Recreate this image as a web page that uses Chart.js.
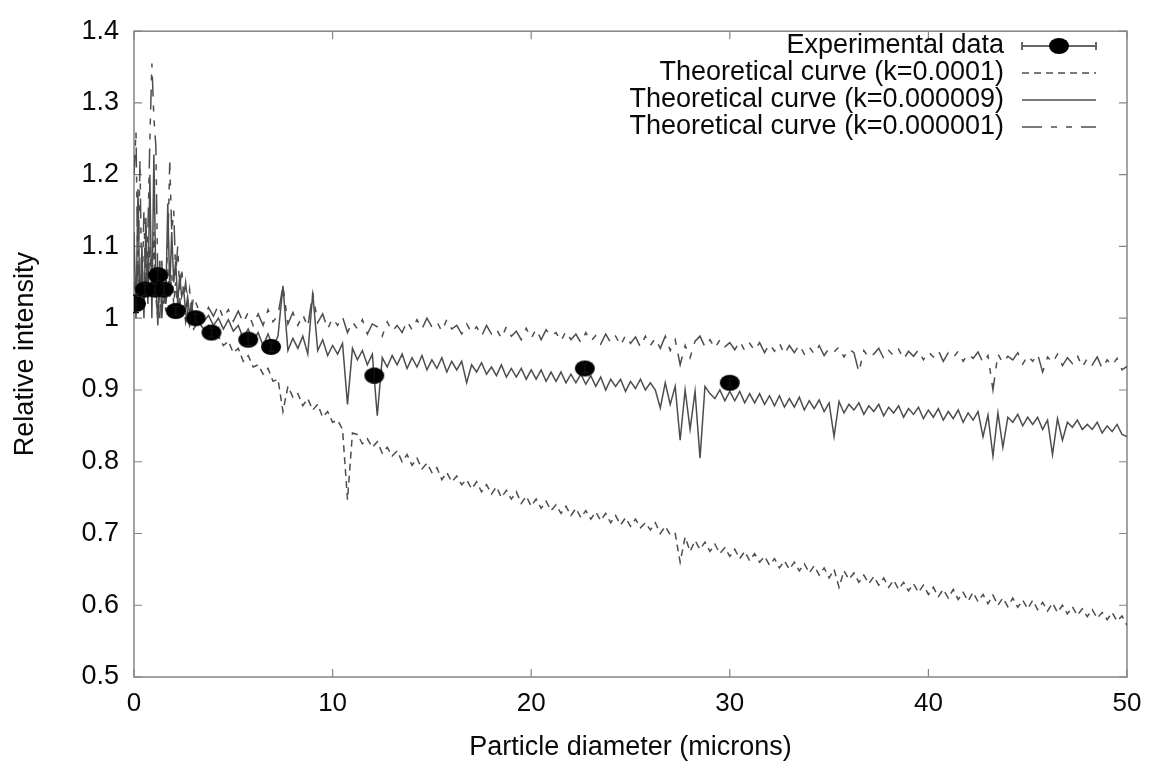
<!DOCTYPE html>
<html><head><meta charset="utf-8">
<script src="https://cdn.jsdelivr.net/npm/chart.js@4"></script>
<style>html,body{margin:0;padding:0;background:#fff}#wrap{width:1154px;height:772px}</style>
</head><body><div id="wrap"><canvas id="c" width="1154" height="772"></canvas></div>
<script>
// ---------- DATA ----------
const xTickLabels = ['0','10','20','30','40','50'];
const yTickLabels = ['0.5','0.6','0.7','0.8','0.9','1','1.1','1.2','1.3','1.4'];

const seriesLabels = [
  'Experimental data',
  'Theoretical curve (k=0.0001)',
  'Theoretical curve (k=0.000009)',
  'Theoretical curve (k=0.000001)'
];

// Experimental points
const expDiameter = [0.1, 0.55, 1.05, 1.2, 1.5, 2.1, 3.1, 3.9, 5.75, 6.9, 12.1, 22.7, 30.0];
const expIntensity = [1.02, 1.04, 1.04, 1.06, 1.04, 1.01, 1.0, 0.98, 0.97, 0.96, 0.92, 0.93, 0.91];
const expError = [0.012, 0.008, 0.008, 0.008, 0.008, 0.006, 0.006, 0.006, 0.008, 0.006, 0.01, 0.006, 0.006];

// Diameter grid of the theoretical curves
const diameterGrid = [
  0,0.1,0.2,0.3,0.4,0.5,0.6,0.7,0.8,0.9,1,1.1,1.2,1.3,1.4,1.5,1.6,1.7,1.8,1.9,2,2.1,2.2,2.3,2.4,2.5,2.6,2.7,2.8,2.9,3,
  3.25,3.5,3.75,4, 4.25,4.5,4.75,5, 5.25,5.5,5.75,6, 6.25,6.5,6.75,7, 7.25,7.5,7.75,8,
  8.25,8.5,8.75,9, 9.25,9.5,9.75,10, 10.25,10.5,10.75,11, 11.25,11.5,11.75,12, 12.25,12.5,12.75,13,
  13.25,13.5,13.75,14, 14.25,14.5,14.75,15, 15.25,15.5,15.75,16, 16.25,16.5,16.75,17, 17.25,17.5,17.75,18,
  18.25,18.5,18.75,19, 19.25,19.5,19.75,20, 20.25,20.5,20.75,21, 21.25,21.5,21.75,22, 22.25,22.5,22.75,23,
  23.25,23.5,23.75,24, 24.25,24.5,24.75,25, 25.25,25.5,25.75,26, 26.25,26.5,26.75,27, 27.25,27.5,27.75,28,
  28.25,28.5,28.75,29, 29.25,29.5,29.75,30, 30.25,30.5,30.75,31, 31.25,31.5,31.75,32, 32.25,32.5,32.75,33,
  33.25,33.5,33.75,34, 34.25,34.5,34.75,35, 35.25,35.5,35.75,36, 36.25,36.5,36.75,37, 37.25,37.5,37.75,38,
  38.25,38.5,38.75,39, 39.25,39.5,39.75,40, 40.25,40.5,40.75,41, 41.25,41.5,41.75,42, 42.25,42.5,42.75,43,
  43.25,43.5,43.75,44, 44.25,44.5,44.75,45, 45.25,45.5,45.75,46, 46.25,46.5,46.75,47, 47.25,47.5,47.75,48,
  48.25,48.5,48.75,49, 49.25,49.5,49.75,50
];

// k = 0.0001 (lowest curve)
const curveK0001 = [
  1.05,1.02,1.08,1.01,1.06,1.02,1.09,1.03,1.10,1.04,1.12,1.03,1.00,1.05,1.02,1.04,1.01,1.07,1.03,1.06,1.02,1.05,1.01,1.03,1.00,1.02,0.995,1.01,0.99,1.00,0.985,
  0.995,0.985,0.99,0.978, 0.975,0.962,0.968,0.952, 0.958,0.94,0.948,0.932, 0.935,0.922,0.93,0.912, 0.915,0.87,0.905,0.89,
  0.895,0.878,0.888,0.872, 0.88,0.862,0.87,0.855, 0.858,0.845,0.747,0.84, 0.838,0.825,0.832,0.82, 0.828,0.812,0.82,0.808,
  0.815,0.8,0.81,0.795, 0.805,0.79,0.798,0.785, 0.792,0.775,0.785,0.772, 0.78,0.768,0.775,0.762, 0.772,0.758,0.768,0.755,
  0.765,0.75,0.76,0.748, 0.758,0.742,0.752,0.738, 0.748,0.735,0.745,0.732, 0.74,0.728,0.738,0.725, 0.735,0.722,0.732,0.72,
  0.73,0.718,0.728,0.715, 0.725,0.712,0.722,0.71, 0.72,0.708,0.715,0.705, 0.715,0.7,0.71,0.698, 0.7,0.66,0.695,0.675,
  0.69,0.678,0.688,0.675, 0.685,0.672,0.68,0.668, 0.678,0.665,0.675,0.662, 0.672,0.66,0.668,0.656, 0.665,0.652,0.662,0.65,
  0.66,0.648,0.658,0.645, 0.655,0.642,0.652,0.638, 0.65,0.625,0.648,0.636, 0.645,0.632,0.642,0.63, 0.64,0.628,0.638,0.625,
  0.635,0.622,0.632,0.62, 0.63,0.618,0.628,0.615, 0.625,0.612,0.622,0.61, 0.622,0.608,0.618,0.606, 0.618,0.605,0.615,0.602,
  0.614,0.6,0.61,0.598, 0.61,0.597,0.607,0.595, 0.607,0.594,0.604,0.592, 0.603,0.59,0.6,0.588, 0.598,0.586,0.595,0.584,
  0.594,0.582,0.59,0.58, 0.59,0.578,0.585,0.572
];

// k = 0.000009 (middle, solid curve)
const curveK000009 = [
  1.12,1.00,1.18,1.01,1.10,1.00,1.14,1.02,1.20,1.00,1.228,1.05,0.99,1.08,1.00,1.05,1.02,1.16,1.04,1.12,1.05,1.08,1.02,1.06,1.03,1.04,1.01,1.03,1.005,1.02,1.00,
  1.008,0.995,1.004,0.99, 1.0,0.985,0.998,0.982, 0.99,0.972,0.985,0.968, 0.98,0.962,0.978,0.96, 0.975,1.045,0.955,0.972,
  0.958,0.975,0.95,1.035, 0.955,0.97,0.948,0.962, 0.95,0.965,0.88,0.958, 0.942,0.955,0.935,0.95, 0.864,0.945,0.932,0.948,
  0.935,0.95,0.93,0.945, 0.932,0.948,0.928,0.942, 0.93,0.945,0.925,0.94, 0.928,0.94,0.91,0.935, 0.925,0.938,0.922,0.932,
  0.92,0.935,0.918,0.93, 0.918,0.93,0.915,0.928, 0.915,0.928,0.912,0.925, 0.912,0.925,0.91,0.922, 0.91,0.922,0.908,0.92,
  0.905,0.918,0.9,0.915, 0.905,0.915,0.898,0.912, 0.902,0.915,0.9,0.91, 0.9,0.875,0.91,0.88, 0.905,0.83,0.9,0.845,
  0.898,0.805,0.905,0.895, 0.888,0.9,0.885,0.898, 0.885,0.898,0.882,0.895, 0.882,0.895,0.88,0.892, 0.878,0.892,0.876,0.888,
  0.876,0.89,0.872,0.885, 0.874,0.886,0.87,0.882, 0.835,0.884,0.868,0.88, 0.872,0.882,0.866,0.878, 0.87,0.88,0.864,0.876,
  0.868,0.878,0.862,0.874, 0.866,0.876,0.86,0.872, 0.862,0.874,0.858,0.87, 0.86,0.872,0.855,0.868, 0.858,0.87,0.835,0.865,
  0.808,0.868,0.82,0.862, 0.855,0.866,0.85,0.862, 0.852,0.862,0.845,0.858, 0.81,0.86,0.83,0.855, 0.848,0.858,0.845,0.852,
  0.845,0.855,0.84,0.85, 0.842,0.852,0.838,0.835
];

// k = 0.000001 (upper curve)
const curveK000001 = [
  1.20,1.26,1.05,1.22,1.02,1.15,1.03,1.12,1.25,1.355,1.28,1.24,1.05,1.00,1.08,1.02,1.05,1.10,1.217,1.12,1.15,1.06,1.10,1.04,1.07,1.03,1.05,1.02,1.04,1.01,1.03,
  1.012,0.998,1.015,1.003, 1.018,1.0,1.012,0.996, 1.01,0.994,1.008,0.99, 1.006,0.99,1.012,0.995, 1.004,1.045,0.992,1.008,
  0.99,1.005,0.988,1.035, 0.994,1.006,0.985,1.0, 0.99,1.002,0.98,0.995, 0.985,0.998,0.978,0.992, 0.988,0.975,0.995,0.982,
  0.99,0.98,0.996,0.984, 0.998,0.985,1.0,0.988, 0.995,0.982,0.998,0.985, 0.99,0.978,0.992,0.98, 0.988,0.975,0.99,0.978,
  0.985,0.972,0.988,0.975, 0.982,0.97,0.986,0.972, 0.985,0.97,0.984,0.975, 0.98,0.968,0.982,0.97, 0.978,0.966,0.98,0.968,
  0.976,0.964,0.978,0.966, 0.975,0.962,0.976,0.965, 0.974,0.96,0.975,0.962, 0.972,0.958,0.975,0.955, 0.97,0.935,0.962,0.945,
  0.968,0.975,0.96,0.97, 0.958,0.97,0.96,0.966, 0.956,0.968,0.955,0.965, 0.955,0.966,0.952,0.964, 0.954,0.965,0.95,0.962,
  0.952,0.963,0.95,0.96, 0.95,0.962,0.948,0.958, 0.953,0.96,0.946,0.957, 0.952,0.925,0.955,0.945, 0.95,0.958,0.944,0.955,
  0.948,0.957,0.943,0.954, 0.947,0.956,0.942,0.953, 0.946,0.955,0.94,0.952, 0.945,0.954,0.94,0.95, 0.944,0.953,0.938,0.948,
  0.9,0.95,0.938,0.947, 0.942,0.952,0.936,0.948, 0.94,0.95,0.925,0.946, 0.938,0.95,0.934,0.945, 0.937,0.948,0.932,0.944,
  0.935,0.946,0.93,0.942, 0.934,0.944,0.928,0.933
];

// ---------- STYLE ----------
const FONT = '"Liberation Sans", Arial, Helvetica, sans-serif';
const LINE_COLOR = '#4d4d4d';
const TEXT_COLOR = '#0a0a0a';

function toPoints(xs, ys){ return xs.map((x,i)=>({x:x, y:ys[i]})); }

// ellipse marker
const dot = document.createElement('canvas');
dot.width = 22; dot.height = 18;
(function(){const c=dot.getContext('2d');c.fillStyle='#000';c.beginPath();c.ellipse(11,9,10,8,0,0,Math.PI*2);c.fill();})();

const errorBarPlugin = {
  id:'errorBars',
  afterDatasetsDraw(chart){
    const ctx = chart.ctx, xs = chart.scales.x, ys = chart.scales.y;
    ctx.save();
    ctx.strokeStyle = '#111'; ctx.lineWidth = 1.5;
    ctx.beginPath();
    expDiameter.forEach((d,i)=>{
      const px = xs.getPixelForValue(d);
      const p1 = ys.getPixelForValue(expIntensity[i]-expError[i]);
      const p2 = ys.getPixelForValue(expIntensity[i]+expError[i]);
      ctx.moveTo(px,p1); ctx.lineTo(px,p2);
      ctx.moveTo(px-3,p1); ctx.lineTo(px+3,p1);
      ctx.moveTo(px-3,p2); ctx.lineTo(px+3,p2);
    });
    ctx.stroke();
    ctx.restore();
  }
};

const TL = 8;
const framePlugin = {
  id:'frame',
  beforeDatasetsDraw(chart){
    const {ctx, chartArea:a} = chart; const xs = chart.scales.x, ys = chart.scales.y;
    ctx.save();
    ctx.strokeStyle = '#858585'; ctx.lineWidth = 1.5;
    ctx.strokeRect(a.left, a.top, a.right-a.left, a.bottom-a.top);
    ctx.lineWidth = 1.2;
    ctx.beginPath();
    xs.ticks.forEach(t=>{const p=xs.getPixelForValue(t.value);
      ctx.moveTo(p,a.bottom); ctx.lineTo(p,a.bottom-TL); ctx.moveTo(p,a.top); ctx.lineTo(p,a.top+TL);});
    ys.ticks.forEach(t=>{const p=ys.getPixelForValue(t.value);
      ctx.moveTo(a.left,p); ctx.lineTo(a.left+TL,p); ctx.moveTo(a.right,p); ctx.lineTo(a.right-TL,p);});
    ctx.stroke();
    ctx.restore();
  }
};

const LEG_TEXT_X = 1004, LEG_Y0 = 46, LEG_STEP = 27, LEG_S0 = 1022, LEG_S1 = 1096;
const legendPlugin = {
  id:'gpLegend',
  afterDraw(chart){
    const ctx = chart.ctx;
    ctx.save();
    ctx.font = '27px ' + FONT; ctx.fillStyle = TEXT_COLOR;
    ctx.textAlign = 'right'; ctx.textBaseline = 'middle';
    chart.data.datasets.forEach((ds,i)=>{
      const yy = LEG_Y0 + i*LEG_STEP;
      ctx.fillText(ds.label, LEG_TEXT_X, yy);
      if(i===0){
        ctx.strokeStyle = '#666'; ctx.lineWidth = 2; ctx.setLineDash([]);
        ctx.beginPath();
        ctx.moveTo(LEG_S0,yy); ctx.lineTo(LEG_S1,yy);
        ctx.moveTo(LEG_S0,yy-4); ctx.lineTo(LEG_S0,yy+4);
        ctx.moveTo(LEG_S1,yy-4); ctx.lineTo(LEG_S1,yy+4);
        ctx.stroke();
        ctx.drawImage(dot, (LEG_S0+LEG_S1)/2-11, yy-9);
      } else {
        ctx.strokeStyle = ds.borderColor; ctx.lineWidth = 1.3; ctx.setLineDash(ds.borderDash||[]);
        ctx.beginPath(); ctx.moveTo(LEG_S0,yy); ctx.lineTo(LEG_S1,yy); ctx.stroke();
      }
    });
    ctx.restore();
  }
};

new Chart(document.getElementById('c'), {
  type:'scatter',
  data:{
    datasets:[
      { label:seriesLabels[0], data:toPoints(expDiameter, expIntensity), showLine:false,
        pointStyle:dot, pointRadius:9, pointHoverRadius:9, backgroundColor:'#000', borderColor:'#000' },
      { label:seriesLabels[1], data:toPoints(diameterGrid, curveK0001), showLine:true, pointRadius:0,
        borderColor:LINE_COLOR, borderWidth:1.5, borderDash:[7,5], tension:0 },
      { label:seriesLabels[2], data:toPoints(diameterGrid, curveK000009), showLine:true, pointRadius:0,
        borderColor:LINE_COLOR, borderWidth:1.5, tension:0 },
      { label:seriesLabels[3], data:toPoints(diameterGrid, curveK000001), showLine:true, pointRadius:0,
        borderColor:LINE_COLOR, borderWidth:1.5, borderDash:[20,9,6,9,6,9], tension:0 }
    ]
  },
  options:{
    responsive:false, animation:false, devicePixelRatio:1,
    layout:{padding:{top:22, right:27, left:0, bottom:0}},
    plugins:{legend:{display:false}, tooltip:{enabled:false}},
    scales:{
      x:{type:'linear', min:0, max:50,
        afterFit(s){ s.height = 95; },
        grid:{display:false, drawTicks:false}, border:{display:false},
        ticks:{stepSize:10, padding:11, color:TEXT_COLOR, font:{family:FONT, size:26},
          maxRotation:0, callback:(v,i)=>xTickLabels[i]},
        title:{display:true, text:'Particle diameter (microns)', color:TEXT_COLOR,
          font:{family:FONT, size:27}, padding:{top:0, bottom:8}}
      },
      y:{type:'linear', min:0.5, max:1.4,
        afterFit(s){ s.width = 134; },
        grid:{display:false, drawTicks:false}, border:{display:false},
        ticks:{stepSize:0.1, padding:15, color:TEXT_COLOR, font:{family:FONT, size:27},
          callback:(v,i)=>yTickLabels[i]},
        title:{display:true, text:'Relative intensity', color:TEXT_COLOR,
          font:{family:FONT, size:27}, padding:{top:9, bottom:0}}
      }
    }
  },
  plugins:[framePlugin, errorBarPlugin, legendPlugin]
});
</script></body></html>
